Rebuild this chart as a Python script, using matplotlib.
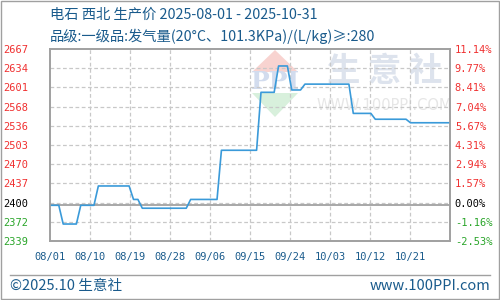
import matplotlib
matplotlib.use('Agg')
import matplotlib.pyplot as plt
import matplotlib.dates as mdates
from matplotlib.patches import Polygon, Rectangle
from matplotlib.lines import Line2D
import numpy as np
import pandas as pd

plt.rcParams['font.family'] = ['Noto Sans CJK SC', 'DejaVu Sans']

#-----DATA-----#
title = '电石 西北 生产价 2025-08-01 - 2025-10-31'
subtitle = '品级:一级品:发气量(20°C、101.3KPa)/(L/kg)≥:280'

start_date = '2025-08-01'
end_date = '2025-10-31'

# daily price, 08/01 .. 10/31
prices_aug = [2400, 2400, 2400, 2368, 2368, 2368, 2368, 2400, 2400, 2400,
              2400, 2433, 2433, 2433, 2433, 2433, 2433, 2433, 2433, 2410,
              2410, 2395, 2395, 2395, 2395, 2395, 2395, 2395, 2395, 2395,
              2395]
prices_sep = [2395, 2410, 2410, 2410, 2410, 2410, 2410, 2410, 2494, 2494,
              2494, 2494, 2494, 2494, 2494, 2494, 2494, 2593, 2593, 2593,
              2593, 2638, 2638, 2638, 2597, 2597, 2597, 2607, 2607, 2607]
prices_oct = [2607, 2607, 2607, 2607, 2607, 2607, 2607, 2607, 2557, 2557,
              2557, 2557, 2557, 2547, 2547, 2547, 2547, 2547, 2547, 2547,
              2547, 2541, 2541, 2541, 2541, 2541, 2541, 2541, 2541, 2541,
              2541]
prices = prices_aug + prices_sep + prices_oct

y_min, y_max = 2339, 2667
base_price = 2400
left_labels = ['2339', '2372', '2400', '2437', '2470', '2503',
               '2536', '2568', '2601', '2634', '2667']
right_labels = ['-2.53%', '-1.16%', '0.00%', '1.57%', '2.94%', '4.31%',
                '5.67%', '7.04%', '8.41%', '9.77%', '11.14%']
x_labels = ['08/01', '08/10', '08/19', '08/28', '09/06',
            '09/15', '09/24', '10/03', '10/12', '10/21']

footer_left = '©2025.10 生意社'
footer_right = 'www.100PPI.com'

#-----COLOURS-----#
c_text = '#1a5b8c'
c_line = '#3a9ad9'
c_up = '#f03030'
c_down = '#2aa52a'
c_grid = '#c8c8c8'
c_frame = '#a0a0a0'


def label_colour(i):
    if i < 2:
        return c_down
    if i == 2:
        return 'black'
    return c_up


#-----GRAPH-----#
fig = plt.figure(figsize=(5, 3), dpi=100)
ax = fig.add_axes([0.1, 1 - 241 / 300, 0.8, 192 / 300])

dates = pd.date_range(start_date, end_date, freq='D')
x0 = mdates.date2num(pd.Timestamp(start_date))
x1 = mdates.date2num(pd.Timestamp(end_date))

ax.plot(dates, prices, color=c_line, lw=1.2, zorder=3)
ax.axhline(base_price, color='#999999', lw=1.2, zorder=2)

ax.set_xlim(x0, x1)
ax.set_ylim(y_min, y_max)

yt = np.linspace(y_min, y_max, 11)
xt = np.linspace(x0, x1, 11)
for y in yt[1:-1]:
    ax.axhline(y, color=c_grid, lw=0.9, ls=(0, (3, 2)), zorder=1)
for x in xt[1:-1]:
    ax.axvline(x, color=c_grid, lw=0.9, ls=(0, (3, 2)), zorder=1)

ax.set_yticks(yt)
ax.set_yticklabels(left_labels, fontfamily='DejaVu Sans Mono', fontsize=7.5)
for i, t in enumerate(ax.get_yticklabels()):
    t.set_color(label_colour(i))
ax.tick_params(axis='y', length=0, pad=15.5)

ax.set_xticks(xt[:-1])
ax.set_xticklabels(x_labels, fontfamily='DejaVu Sans Mono', fontsize=7.5, color=c_text)
ax.tick_params(axis='x', length=0, pad=8)

ax2 = ax.twinx()
ax2.set_ylim(y_min, y_max)
ax2.set_yticks(yt)
ax2.set_yticklabels(right_labels, fontfamily='DejaVu Sans Mono', fontsize=7.5)
for i, t in enumerate(ax2.get_yticklabels()):
    t.set_color(label_colour(i))
ax2.tick_params(axis='y', length=0, pad=3.5)

for a in (ax, ax2):
    for s in a.spines.values():
        s.set_color(c_frame)
        s.set_linewidth(1.2)

# watermark
def fx(px):
    return px / 500


def fy(py):
    return 1 - py / 300


ax.add_patch(Polygon([(fx(252), fy(72)), (fx(298), fy(72)), (fx(275), fy(50))],
                     closed=True, transform=fig.transFigure, color='#f8d3d0', lw=0, zorder=0.2))
ax.add_patch(Polygon([(fx(252), fy(93)), (fx(298), fy(93)), (fx(275), fy(117))],
                     closed=True, transform=fig.transFigure, color='#d8f0dc', lw=0, zorder=0.2))
ax.text(fx(275), fy(82), 'PPI', transform=fig.transFigure, ha='center', va='center',
        fontsize=18, fontweight='bold', color='#d2dcee', family='DejaVu Serif', zorder=0.3)
ax.text(fx(385), fy(72), '生 意 社', transform=fig.transFigure, ha='center', va='center',
        fontsize=24, fontweight='bold', color='#dde3ed', zorder=0.3)
ax.text(fx(384), fy(106), 'WWW.100PPI.COM', transform=fig.transFigure, ha='center', va='center',
        fontsize=10.5, color='#e6e6e6', family='DejaVu Sans', zorder=0.3)

# titles
fig.text(fx(50), fy(15), title, fontsize=10.3, color=c_text, va='center', ha='left')
fig.text(fx(50), fy(36), subtitle, fontsize=10.3, color=c_text, va='center', ha='left')

# footer
fig.add_artist(Line2D([fx(10), fx(490)], [fy(275), fy(275)], color='#a0a0a0', lw=1,
                      transform=fig.transFigure))
fig.text(fx(10), fy(286), footer_left, fontsize=10.5, color=c_text, va='center', ha='left')
fig.text(fx(490), fy(286), footer_right, fontsize=10.5, color=c_text, va='center', ha='right')

# outer frame
fig.add_artist(Rectangle((0.001, 0.002), 0.997, 0.995, transform=fig.transFigure,
                         fill=False, edgecolor='#a0a0a0', lw=1))

fig.savefig('out.png', dpi=100)
